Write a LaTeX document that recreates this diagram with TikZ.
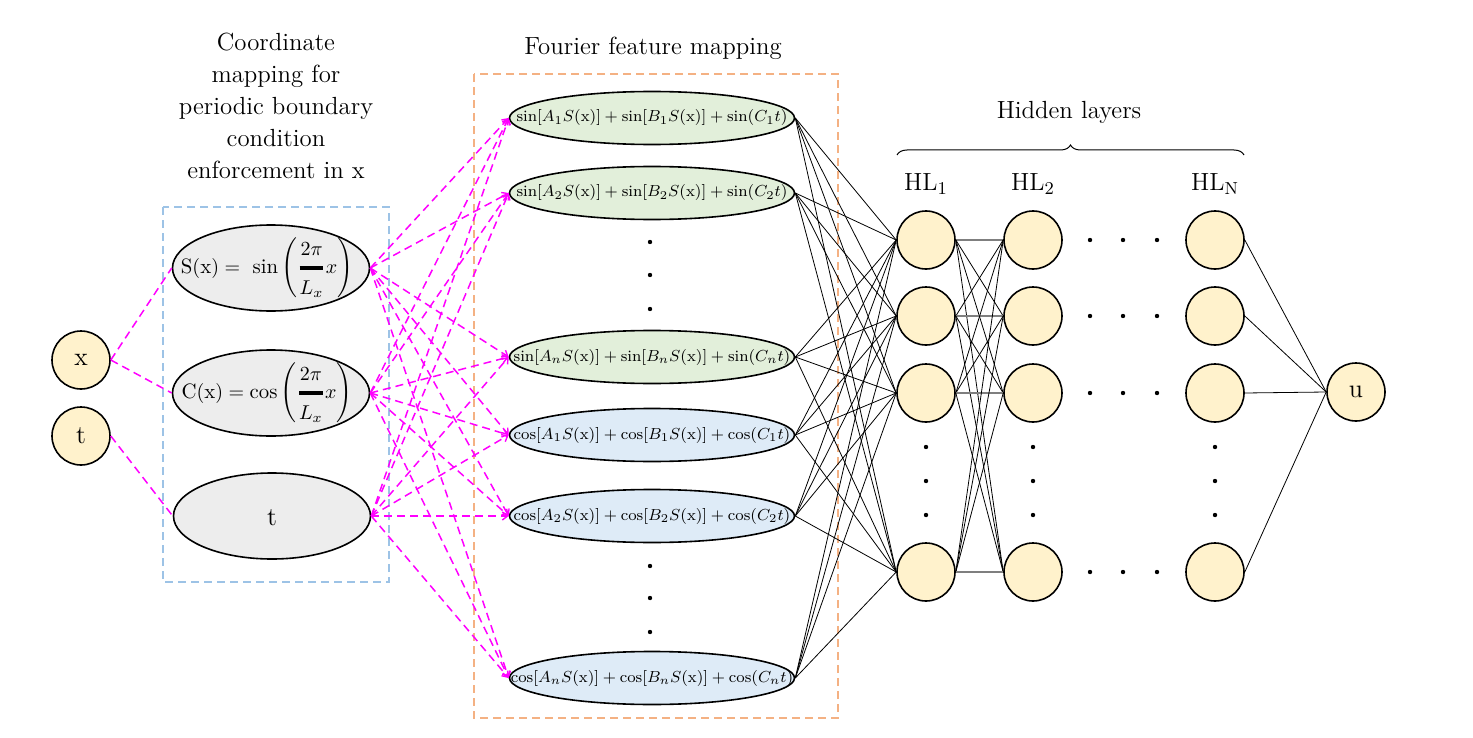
\documentclass[tikz,border=0pt]{standalone}
\usepackage{amsmath}
\usepackage{fontspec}
\usetikzlibrary{shapes.geometric,decorations.pathreplacing,arrows.meta}
\definecolor{neuronfill}{HTML}{FFF2CC}
\definecolor{grayfill}{HTML}{EDEDED}
\definecolor{greenfill}{HTML}{E2EFDA}
\definecolor{bluefill}{HTML}{DEEBF7}
\definecolor{boxblue}{HTML}{9DC3E6}
\definecolor{boxorange}{HTML}{F4B183}
\definecolor{mag}{HTML}{FF00FF}
\definecolor{hgray}{HTML}{7F7F7F}
\tikzset{
  neuron/.style={circle,draw,line width=0.8pt,fill=neuronfill,minimum size=29pt,inner sep=0pt,font=\fontsize{13}{15}\selectfont},
  mapell/.style={ellipse,draw,line width=0.8pt,fill=grayfill,minimum width=98.5pt,minimum height=43pt,inner sep=0pt},
  ffell/.style={ellipse,draw,line width=0.8pt,minimum width=142.5pt,minimum height=26.5pt,inner sep=0pt},
  fftext/.style={inner sep=0pt,font=\fontsize{7.9}{10}\selectfont},
  maptext/.style={inner sep=0pt,font=\fontsize{10.4}{12}\selectfont},
  magline/.style={draw=mag,dash pattern=on 4pt off 2.5pt,line width=0.75pt},
  magarrow/.style={magline,-{Straight Barb[length=2.6pt,width=4pt,line width=0.7pt]}},
  conn/.style={line width=0.4pt},
  hconn/.style={line width=0.7pt,draw=hgray},
  title/.style={align=center,font=\fontsize{12.4}{16}\selectfont},
  dashbox/.style={dash pattern=on 4pt off 2.5pt,line width=0.7pt},
}
\begin{document}
\begin{tikzpicture}[x=0.5pt,y=-0.5pt]
\useasboundingbox (0,0) rectangle (1473,738);
% boxes
\draw[dashbox,draw=boxblue] (163,207) rectangle (389,582);
\draw[dashbox,draw=boxorange] (474,74) rectangle (838,718);
% titles
\node[title] (ctitle) at (276,106) {Coordinate\\mapping for\\periodic boundary\\condition\\enforcement in x};
\node[title] (ftitle) at (653,48) {Fourier feature mapping};
\node[title] (htitle) at (1069,112) {Hidden layers};
\coordinate (brL) at (897,155);
\coordinate (brR) at (1244,155);
\draw[line width=0.5pt,decorate,decoration={brace,amplitude=5pt}] (brL) -- (brR);
\node[title] (l1) at (926,184) {HL$_1$};
\node[title] (l2) at (1033,184) {HL$_2$};
\node[title] (lN) at (1215,184) {HL$_\mathrm{N}$};
% inputs
\node[neuron] (x) at (81,360) {x};
\node[neuron] (t) at (81,436) {t};
% mapping ellipses
\node[mapell] (S) at (271,268) {};
\node[maptext] (St) at (267,268) {$\mathrm{S(x)} =\ \sin\left(\genfrac{}{}{1.8pt}{0}{2\pi}{L_x}x\right)$};
\node[mapell] (C) at (271,393) {};
\node[maptext] (Ct) at (267,393) {$\mathrm{C(x)} = \cos\left(\genfrac{}{}{1.8pt}{0}{2\pi}{L_x}x\right)$};
\node[mapell] (T) at (272,516) {};
\node[maptext,font=\fontsize{13}{15}\selectfont] (Tt) at (272,518) {t};
% fourier ellipses
\node[ffell,fill=greenfill] (F1) at (652,118) {};
\node[fftext] (F1t) at (652,118) {$\sin[A_1S(\mathrm{x})] + \sin[B_1S(\mathrm{x})] + \sin(C_1t)$};
\node[ffell,fill=greenfill] (F2) at (652,193) {};
\node[fftext] (F2t) at (652,193) {$\sin[A_2S(\mathrm{x})] + \sin[B_2S(\mathrm{x})] + \sin(C_2t)$};
\node[ffell,fill=greenfill] (Fn) at (652,357) {};
\node[fftext] (Fnt) at (652,357) {$\sin[A_nS(\mathrm{x})] + \sin[B_nS(\mathrm{x})] + \sin(C_nt)$};
\node[ffell,fill=bluefill] (G1) at (652,435) {};
\node[fftext] (G1t) at (652,435) {$\cos[A_1S(\mathrm{x})] + \cos[B_1S(\mathrm{x})] + \cos(C_1t)$};
\node[ffell,fill=bluefill] (G2) at (652,516) {};
\node[fftext] (G2t) at (652,516) {$\cos[A_2S(\mathrm{x})] + \cos[B_2S(\mathrm{x})] + \cos(C_2t)$};
\node[ffell,fill=bluefill] (Gn) at (652,678) {};
\node[fftext] (Gnt) at (652,678) {$\cos[A_nS(\mathrm{x})] + \cos[B_nS(\mathrm{x})] + \cos(C_nt)$};
\foreach \yy in {242,275,309,566,598,632} \fill (650,\yy) circle (1.1pt);
% hidden layers
\foreach \i/\yy in {1/240,2/316,3/393,4/572}{
  \node[neuron] (a\i) at (926,\yy) {};
  \node[neuron] (b\i) at (1033,\yy) {};
  \node[neuron] (c\i) at (1215,\yy) {};
  \foreach \xx in {1090,1123,1157} \fill (\xx,\yy) circle (1.1pt);
}
\foreach \xx in {926,1033,1215} \foreach \yy in {447,481,515} \fill (\xx,\yy) circle (1.1pt);
\node[neuron] (u) at (1356,392) {u};
% connections
\draw[magline] (x.east) -- (S.west);
\draw[magline] (x.east) -- (C.west);
\draw[magline] (t.east) -- (T.west);
\foreach \s in {S,C,T} \foreach \f in {F1,F2,Fn,G1,G2,Gn} \draw[magarrow] (\s.east) -- (\f.west);
\foreach \f in {F1,F2,Fn,G1,G2,Gn} \foreach \h in {1,2,3,4} \draw[conn] (\f.east) -- (a\h.west);
\foreach \i in {1,2,3,4} \foreach \j in {1,2,3,4}{
  \ifnum\i=\j \draw[hconn] (a\i.east) -- (b\j.west); \else \draw[conn] (a\i.east) -- (b\j.west); \fi
}
\foreach \i in {1,2,3,4} \draw[conn] (c\i.east) -- (u.west);
\end{tikzpicture}
\end{document}
